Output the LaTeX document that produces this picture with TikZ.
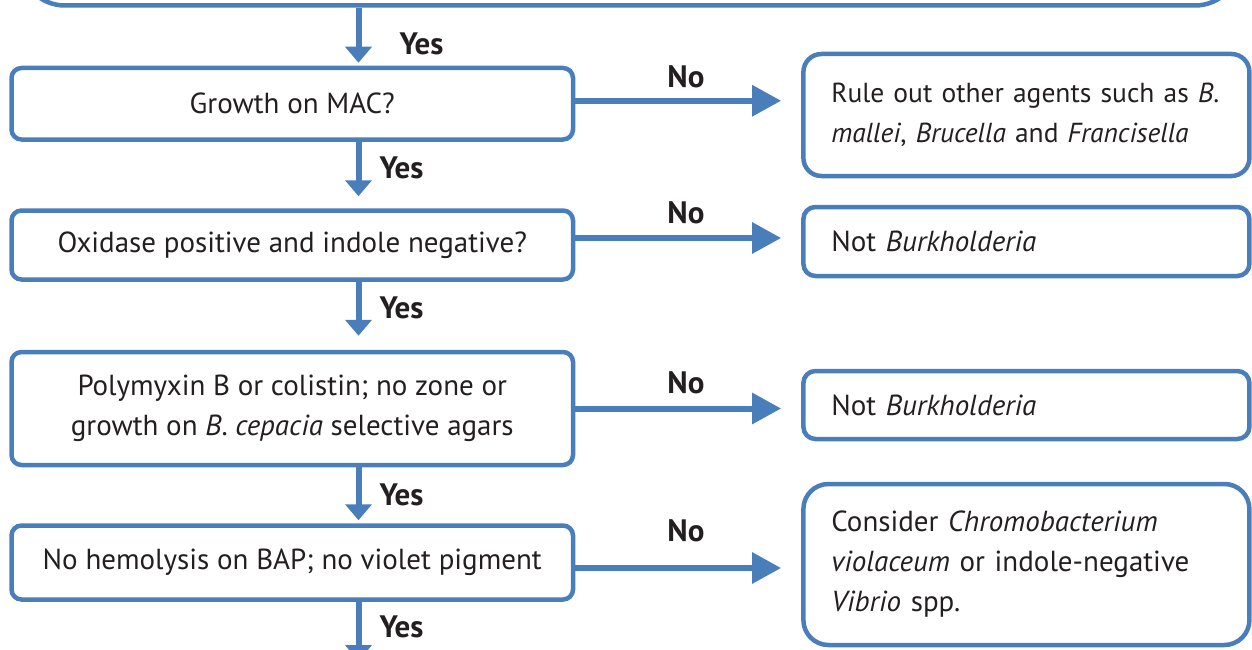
\documentclass[tikz,border=0pt]{standalone}
\usepackage{fontspec}
\setmainfont{PT Sans}
\usetikzlibrary{arrows.meta, positioning}
\definecolor{cblue}{HTML}{4A7EBB}
\definecolor{ctext}{HTML}{231F20}
\tikzset{
  every picture/.style={font=\fontsize{29}{40}\selectfont, text=ctext},
  qbox/.style={draw=cblue, line width=4.5pt, rounded corners=10pt, align=center, inner sep=0pt, minimum width=561.5pt},
  rbox/.style={draw=cblue, line width=4.5pt, rounded corners=#1, align=left, text width=390pt, inner xsep=28pt, inner ysep=0pt},
  rbox/.default=12pt,
  yesarrow/.style={-{Triangle[length=16pt, width=26pt]}, draw=cblue, line width=6pt},
  noarrow/.style={-{Triangle[length=29pt, width=30pt]}, draw=cblue, line width=6pt},
  lbl/.style={font=\bfseries\fontsize{31}{32}\selectfont, inner sep=0pt},
}

\begin{document}
\begin{tikzpicture}[x=1pt, y=-1pt]
  \useasboundingbox (0,0) rectangle (1252,650);
  \clip (0,0) rectangle (1252,650);
  % question boxes (left column)
  \node[qbox, minimum width=1220pt, minimum height=100pt, rounded corners=45pt] (topbox) at (630,-44.5) {};
  \node[qbox, minimum height=71.5pt] (q1) at (292.25,103.75) {Growth on MAC?};
  \node[qbox, minimum height=69pt] (q2) at (292.25,245) {Oxidase positive and indole negative?};
  \node[qbox, minimum height=113pt] (q3) at (292.25,408.5) {Polymyxin B or colistin; no zone or\\growth on \textit{B}. \textit{cepacia} selective agars};
  \node[qbox, minimum height=74pt] (q4) at (292.25,562.5) {No hemolysis on BAP; no violet pigment};
  % outcome boxes (right column)
  \node[rbox=18pt, minimum height=122pt, font=\fontsize{27.5}{40}\selectfont] (rA) at (1026.4,115) {Rule out other agents such as \textit{B}.\\\textit{mallei}, \textit{Brucella} and \textit{Francisella}};
  \node[rbox, minimum height=69pt] (rB) at (1026.4,241.5) {Not \textit{Burkholderia}};
  \node[rbox, minimum height=68pt] (rC) at (1026.4,405) {Not \textit{Burkholderia}};
  \node[rbox=25pt, minimum height=161pt] (rD) at (1026.4,564.5) {Consider \textit{Chromobacterium}\\\textit{violaceum} or indole-negative\\\textit{Vibrio} spp.};
  % yes arrows
  \coordinate (col) at (358.5,0);
  \coordinate (bot) at (358.5,661);
  \draw[yesarrow, shorten >=3pt] (topbox.south -| col) -- node[lbl, right=38pt, pos=0.63] {Yes} (q1.north -| col);
  \draw[yesarrow, shorten >=12pt] (q1.south -| col) -- node[lbl, right=18pt, pos=0.39] {Yes} (q2.north -| col);
  \draw[yesarrow, shorten >=14pt] (q2.south -| col) -- node[lbl, right=18pt, pos=0.38] {Yes} (q3.north -| col);
  \draw[yesarrow, shorten >=3pt] (q3.south -| col) -- node[lbl, right=18pt, pos=0.49] {Yes} (q4.north -| col);
  \draw[yesarrow] (q4.south -| col) -- node[lbl, right=18pt, pos=0.42] {Yes} (bot);
  % no arrows
  \coordinate (n1) at ([yshift=3pt]q1.east);
  \coordinate (n2) at ([yshift=7pt]q2.east);
  \coordinate (n3) at (q3.east);
  \coordinate (n4) at ([yshift=-5.5pt]q4.east);
  \draw[noarrow, shorten >=20pt] (n1) -- node[lbl, above=10pt, pos=0.49] {No} (n1 -| rA.west);
  \draw[noarrow, shorten >=20pt] (n2) -- node[lbl, above=11pt, pos=0.49] {No} (n2 -| rB.west);
  \draw[noarrow, shorten >=20pt] (n3) -- node[lbl, above=11.5pt, pos=0.49] {No} (n3 -| rC.west);
  \draw[noarrow, shorten >=20pt] (n4) -- node[lbl, above=23pt, pos=0.49] {No} (n4 -| rD.west);
\end{tikzpicture}
\end{document}
